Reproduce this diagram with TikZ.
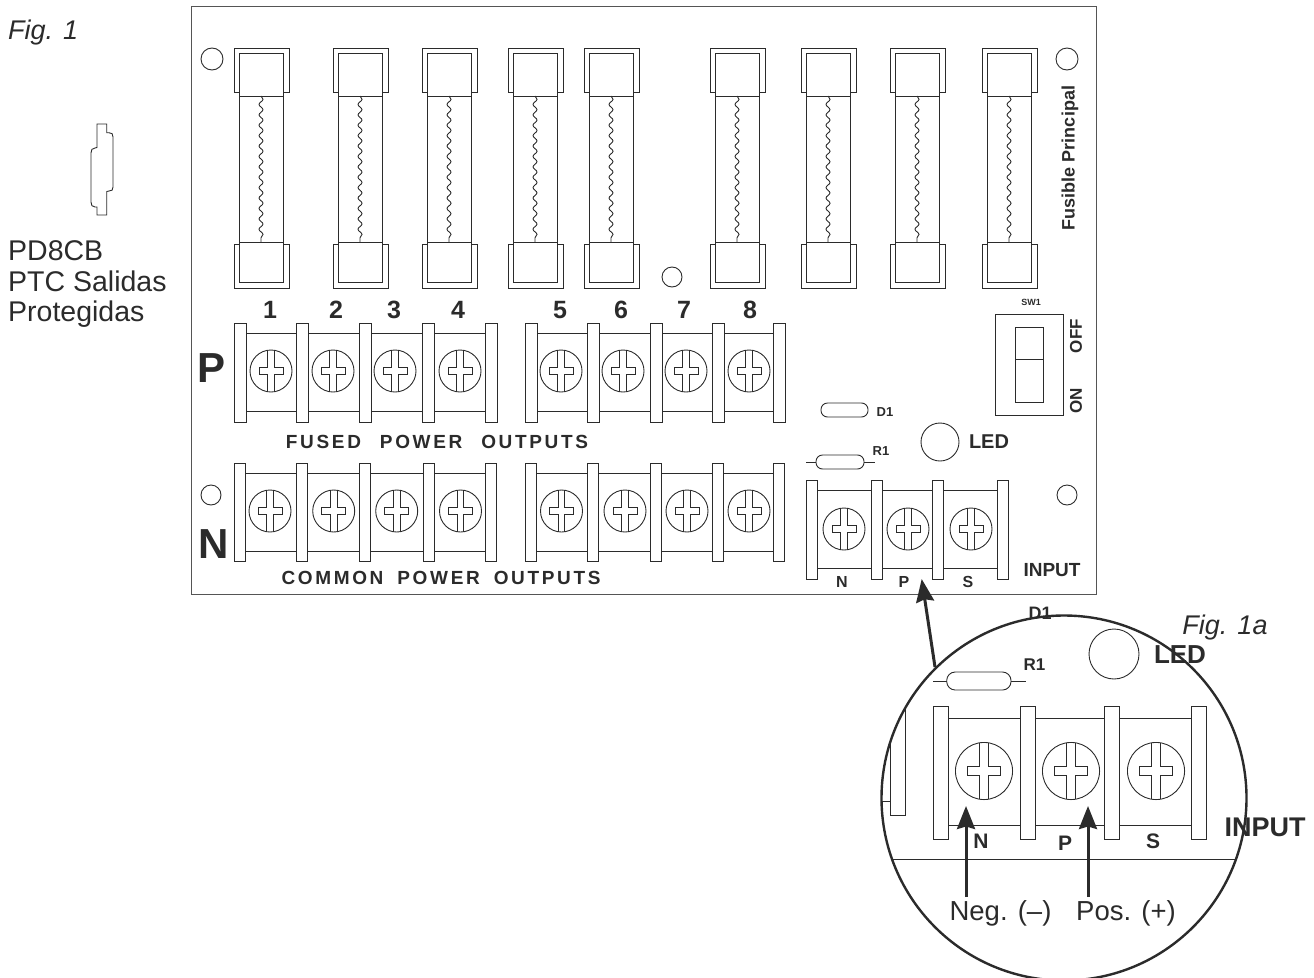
\documentclass[tikz,border=0pt]{standalone}
\usepackage{xcolor}
\usepackage{fontspec}
\usepackage{tikz}
\usetikzlibrary{arrows.meta,decorations.pathmorphing}
\setmainfont{Liberation Sans}
\newfontfamily\spaced[LetterSpace=14]{Liberation Sans}
\definecolor{ink}{HTML}{2B2B2B}
\newcommand{\fs}[1]{\fontsize{#1}{#1}\selectfont}
\tikzset{
  wire/.style={draw=ink,line width=0.9pt},
  post/.style={draw=ink,line width=0.9pt,fill=white},
  lab/.style={text=ink,inner sep=0pt,font=\fs{#1}\bfseries},
  txt/.style={text=ink,inner sep=0pt,font=\fs{#1}},
  call/.style={draw=ink,line width=3pt,-{Stealth[length=23pt,width=18pt,inset=2.5pt]}},
  screw/.pic={
    \draw[wire] (0,0) circle[radius=21];
    \draw[wire] (-3.3,-20.8) -- (-3.3,-3.6) -- (-12,-3.6) -- (-12,3.6) -- (-3.3,3.6) -- (-3.3,20.8);
    \draw[wire] (3.3,-20.8) -- (3.3,-3.6) -- (12,-3.6) -- (12,3.6) -- (3.3,3.6) -- (3.3,20.8);
  },
  fuse/.pic={
    \draw[wire] (-22,96) -- (-22,242) (22,96) -- (22,242);
    \draw[wire] (-22,53) rectangle (22,96);
    \draw[wire] (-22,242) rectangle (22,282);
    \draw[wire] (-22,92) -- (-27,92) -- (-27,48) -- (28,48) -- (28,92) -- (22,92);
    \draw[wire] (-22,244) -- (-27,244) -- (-27,288) -- (28,288) -- (28,244) -- (22,244);
    \draw[wire,decorate,decoration={snake,segment length=10.4,amplitude=2}] (0,96) -- (0,242);
  },
}
\begin{document}
\begin{tikzpicture}[x=1pt,y=-1pt]
\useasboundingbox (0,0) rectangle (1314,977);
%Placa
\draw[wire,draw=ink!80] (191,6) rectangle (1096,594);
%Agujeros
\foreach \xh/\yh/\rh in {212/59/11,1067/59/11,672/277/10,211/495/10,1067/495/10}
  \draw[wire] (\xh,\yh) circle[radius=\rh];
%Fusibles
\foreach \xf in {261,360,449,535,611,737,828,917,1009}
  \pic at (\xf,0) {fuse};
\foreach \xn/\tn in {270/1,336/2,394/3,458/4,560/5,621/6,684/7,750/8}
  \node[lab=25] (num\tn) at (\xn,310) {\tn};
%Bornes P
\draw[wire] (246,333) -- (485,333) (246,411) -- (485,411);
\draw[wire] (537,333) -- (773,333) (537,411) -- (773,411);
\foreach \xp in {234,296,359,422,485,525,587,650,712,773}
  \draw[post] (\xp,323) rectangle +(12,99);
\foreach \xs in {271,333,395,460,561,623,686,749}
  \pic at (\xs,371) {screw};
%Bornes N
\draw[wire] (246,473) -- (485,473) (246,551) -- (485,551);
\draw[wire] (537,473) -- (773,473) (537,551) -- (773,551);
\foreach \xp in {234,296,359,423,485,525,587,650,712,773}
  \draw[post] (\xp,463) rectangle +(11.5,98);
\foreach \xs in {270,333.7,396.7,460.5,561.5,625,687,749}
  \pic at (\xs,511) {screw};
%Bornes entrada
\draw[wire] (818,490) -- (997,490) (818,568) -- (997,568);
\foreach \xp in {806,871,932,997}
  \draw[post] (\xp,480) rectangle +(11.5,99);
\foreach \xs in {844,908,971}
  \pic at (\xs,529) {screw};
%D1 R1 LED
\draw[wire,rounded corners=6.5pt] (821,403) rectangle (868,417);
\draw[wire] (806,462) -- (816,462) (864,462) -- (875,462);
\draw[wire,rounded corners=6.5pt] (816,455) rectangle (864,469);
\draw[wire] (940,442) circle[radius=19];
%SW1
\draw[wire] (995,314) rectangle (1063,415);
\draw[wire] (1015,327) rectangle (1043,402);
\draw[wire] (1015,359) -- (1043,359);
%Text
\node[lab=42] (signp) at (212,368) {P};
\node[lab=42] (signn) at (214,544) {N};
\node[text=ink,inner sep=0pt,font=\fs{19}\spaced\bfseries] (fused) at (437,442) {FUSED\hspace{11pt} POWER\hspace{11pt} OUTPUTS};
\node[text=ink,inner sep=0pt,font=\fs{19}\spaced\bfseries] (common) at (441,578) {COMMON\hspace{6pt} POWER\hspace{6pt} OUTPUTS};
\node[lab=13] (d1) at (885,412) {D1};
\node[lab=13] (r1) at (881,451) {R1};
\node[lab=20] (led) at (989,442) {LED};
\node[lab=9] (sw1) at (1031,302) {SW1};
\node[lab=17,rotate=90] (off) at (1076,336) {OFF};
\node[lab=17,rotate=90] (on) at (1076,401) {ON};
\node[lab=18,rotate=90] (main) at (1070,158) {Fusible Principal};
\node[lab=16] (inn) at (842,582) {N};
\node[lab=16] (inp) at (904,582) {P};
\node[lab=16] (ins) at (968,582) {S};
\node[lab=19] (input) at (1052,570) {INPUT};
\node[txt=27,anchor=base west] (fig) at (8,39) {\itshape Fig. 1};
\node[txt=28.5,anchor=base west] (pd) at (8,260.5) {PD8CB};
\node[txt=28.5,anchor=base west] (ptc) at (8,291.5) {PTC Salidas};
\node[txt=28.5,anchor=base west] (prot) at (8,321.5) {Protegidas};
%Conector PTC
\draw[wire] (97,124) -- (106.7,124) -- (106.7,132.7) -- (109,132.7) .. controls (112,132.7) and (113,134) .. (113,137)
  -- (113,187) .. controls (113,190) and (112,191) .. (109,191) -- (106.7,191.5) -- (106.7,215) -- (97,215) -- (97,207)
  -- (95,207) .. controls (92,207) and (91,205) .. (91,202) -- (91,153) .. controls (91,150) and (92,148) .. (95,148) -- (97,147.5) -- cycle;
%Detalle
\coordinate (cdet) at (1064,798);
\begin{scope}
\clip (cdet) circle[radius=182.5];
\draw[wire] (870,859) -- (1260,859);
\draw[post] (890.7,690) rectangle (905.7,815.7);
\draw[wire] (870,801.7) -- (890.7,801.7);
\end{scope}
\draw[wire] (949,718) -- (1191,718) (949,825) -- (1191,825);
\foreach \xp in {933.3,1020.3,1104,1191}
  \draw[post] (\xp,706) rectangle +(15.5,133);
\foreach \xs in {984,1071,1156}
  \pic[scale=1.36] at (\xs,771) {screw};
\draw[wire] (933,681) -- (947,681) (1011,681) -- (1025.7,681);
\draw[wire,rounded corners=8.5pt] (946.7,672) rectangle (1011,690);
\draw[wire] (1114,654) circle[radius=25];
\node[lab=18] (d1b) at (1040,613) {D1};
\node[lab=17] (r1b) at (1034.5,665) {R1};
\node[lab=26] (ledb) at (1180,655) {LED};
\node[txt=27] (figb) at (1225,628) {\itshape Fig. 1a};
\node[lab=27] (inputb) at (1265,827) {INPUT};
\node[lab=21] (innb) at (981,841) {N};
\node[lab=21] (inpb) at (1065,843) {P};
\node[lab=21] (insb) at (1153,841) {S};
\node[txt=27.5] (neg) at (1000.5,913) {Neg. (--)};
\node[txt=27.5] (pos) at (1126,913) {Pos. (+)};
\draw[draw=ink,line width=2.4pt] (cdet) circle[radius=182.5];
%Flechas
\coordinate (negtip) at (966,806);
\coordinate (negend) at (966,897);
\coordinate (postip) at (1088,806);
\coordinate (posend) at (1088,897);
\coordinate (mtip) at (921.7,579);
\coordinate (mend) at (935,667);
\draw[call] (negend) -- (negtip);
\draw[call] (posend) -- (postip);
\draw[call] (mend) -- (mtip);
\end{tikzpicture}
\end{document}
